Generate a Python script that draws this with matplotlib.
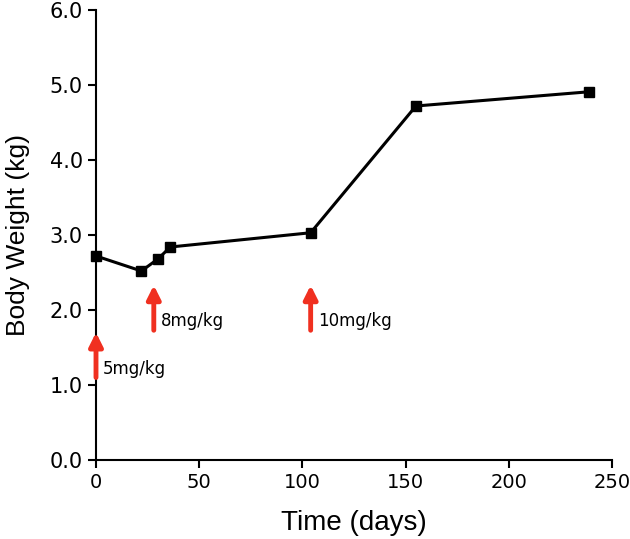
import matplotlib
matplotlib.use('Agg')
import matplotlib.pyplot as plt

days = [0, 22, 30, 36, 104, 155, 239]
weight = [2.72, 2.52, 2.68, 2.84, 3.03, 4.72, 4.91]

dose_days = [0, 28, 104]
dose_labels = ['5mg/kg', '8mg/kg', '10mg/kg']
arrow_base = [1.1, 1.73, 1.73]
arrow_tip = [1.7, 2.33, 2.33]

fig = plt.figure(figsize=(6.3, 5.39), dpi=100)
ax = fig.add_axes([96 / 630, 1 - 460 / 539, 516 / 630, 450 / 539])

ax.plot(days, weight, color='black', lw=2.2, marker='s', ms=7.5, clip_on=False, zorder=3)

for d, lab, b, t in zip(dose_days, dose_labels, arrow_base, arrow_tip):
    ax.annotate('', xy=(d, t), xytext=(d, b),
                arrowprops=dict(arrowstyle='-|>,head_width=0.4,head_length=0.8',
                                color='#f03020', lw=3.5, shrinkA=0, shrinkB=0),
                annotation_clip=False)
    ax.text(d + 3.5, b, lab, fontsize=12, va='bottom', ha='left')

ax.set_xlim(0, 250)
ax.set_ylim(0, 6)
ax.set_xticks([0, 50, 100, 150, 200, 250])
ax.set_yticks([0, 1, 2, 3, 4, 5, 6])
ax.set_yticklabels(['0.0', '1.0', '2.0', '3.0', '4.0', '5.0', '6.0'])
ax.spines['top'].set_visible(False)
ax.spines['right'].set_visible(False)
ax.spines['left'].set_linewidth(1.5)
ax.spines['bottom'].set_linewidth(1.5)
ax.tick_params(direction='out', length=6, width=1.5, labelsize=15)
ax.tick_params(axis='x', labelsize=14)

ax.set_xlabel('Time (days)', fontsize=20, family='Liberation Sans', labelpad=13)
ax.set_ylabel('Body Weight (kg)', fontsize=19, family='Liberation Sans', labelpad=14)

fig.savefig('out.png', dpi=100)
